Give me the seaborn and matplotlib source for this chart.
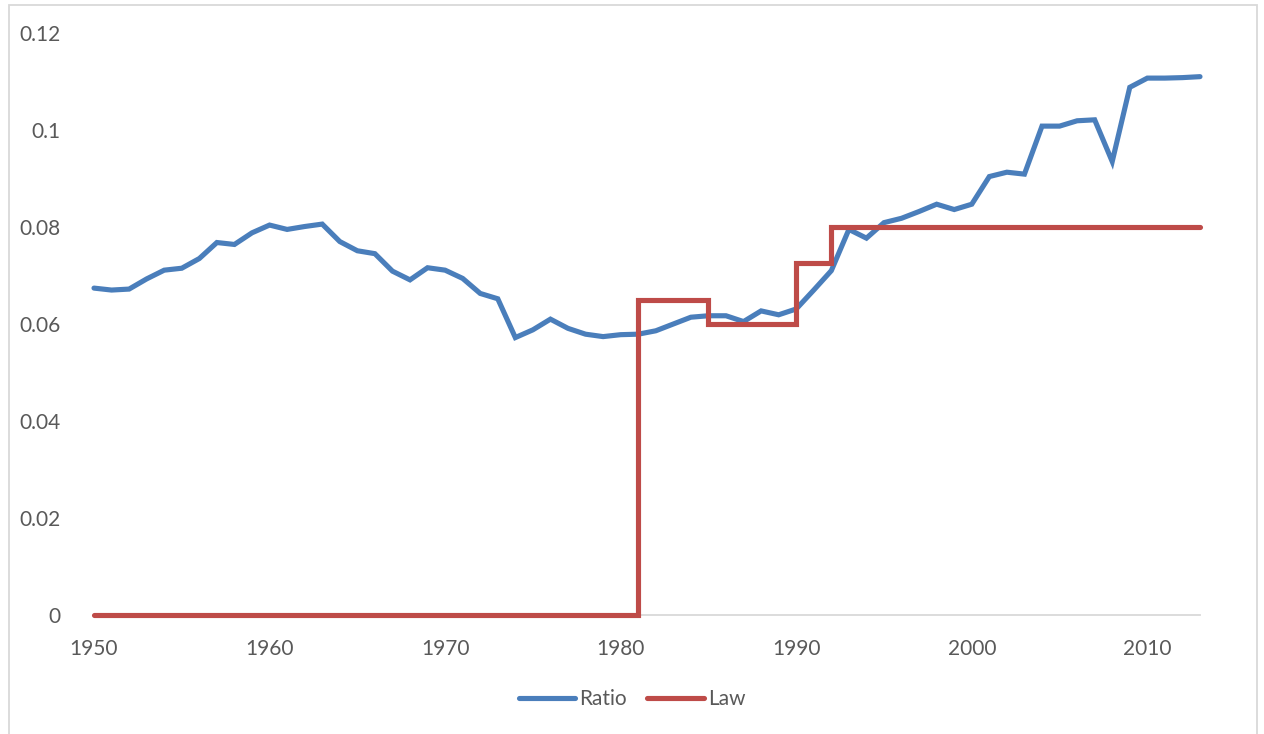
import matplotlib
matplotlib.use("Agg")
import matplotlib.pyplot as plt
import seaborn as sns
import pandas as pd
from matplotlib.patches import Rectangle

# values
years = list(range(1950, 2014))
ratio = [0.0674, 0.0670, 0.0672, 0.0693, 0.0711, 0.0715, 0.0735, 0.0768, 0.0764, 0.0788,
         0.0804, 0.0795, 0.0801, 0.0806, 0.0770, 0.0751, 0.0745, 0.0709, 0.0691, 0.0716,
         0.0711, 0.0694, 0.0663, 0.0652, 0.0572, 0.0588, 0.0610, 0.0591, 0.0579, 0.0574,
         0.0578, 0.0579, 0.0586, 0.0600, 0.0614, 0.0617, 0.0617, 0.0605, 0.0627, 0.0619,
         0.0631, 0.0670, 0.0710, 0.0795, 0.0777, 0.0809, 0.0818, 0.0832, 0.0847, 0.0836,
         0.0847, 0.0904, 0.0913, 0.0909, 0.1008, 0.1008, 0.1019, 0.1021, 0.0935, 0.1088,
         0.1107, 0.1107, 0.1108, 0.1110]

# law changes: value holds from that year until the next change
law_years = [1950, 1981, 1985, 1990, 1992, 2013]
law_values = [0.0, 0.065, 0.060, 0.0725, 0.080, 0.080]

y_ticks = [0, 0.02, 0.04, 0.06, 0.08, 0.1, 0.12]
y_tick_labels = ["0", "0.02", "0.04", "0.06", "0.08", "0.1", "0.12"]
x_ticks = [1950, 1960, 1970, 1980, 1990, 2000, 2010]

sns.set_style("white")
plt.rcParams['font.family'] = ['Lato', 'DejaVu Sans']

blue = "#4A7EBB"
red = "#BE4B48"
grey_text = "#595959"

ratio_df = pd.DataFrame({"year": years, "value": ratio})
law_df = pd.DataFrame({"year": law_years, "value": law_values})

fig = plt.figure(figsize=(12.64, 7.34), dpi=100)
ax = fig.add_axes([94 / 1264, 1 - 615 / 734, (1200 - 94) / 1264, (615 - 33) / 734])

sns.lineplot(data=ratio_df, x="year", y="value", ax=ax, color=blue, linewidth=3.7,
             label="Ratio", solid_joinstyle="miter", solid_capstyle="round", clip_on=False)
sns.lineplot(data=law_df, x="year", y="value", ax=ax, color=red, linewidth=3.7,
             label="Law", drawstyle="steps-post", estimator=None, sort=False,
             solid_joinstyle="miter", solid_capstyle="round", clip_on=False)

ax.set_xlim(1950, 2013)
ax.set_ylim(0, 0.12)
ax.set_xticks(x_ticks)
ax.set_xticklabels([str(x) for x in x_ticks])
ax.set_yticks(y_ticks)
ax.set_yticklabels(y_tick_labels)
ax.set_xlabel("")
ax.set_ylabel("")
ax.tick_params(axis="both", length=0, labelsize=15, colors=grey_text)
ax.tick_params(axis="x", pad=17)
ax.tick_params(axis="y", pad=24)

for s in ["top", "right", "left"]:
    ax.spines[s].set_visible(False)
ax.spines["bottom"].set_color("#D9D9D9")
ax.spines["bottom"].set_linewidth(1.3)
ax.spines["bottom"].set_zorder(0)

ax.get_legend().remove()
handles, labels = ax.get_legend_handles_labels()
leg = fig.legend(handles, labels, loc="center", bbox_to_anchor=(0.5, 1 - 699 / 734), ncol=2,
                 frameon=False, fontsize=15, handlelength=2.7, handletextpad=0.2,
                 columnspacing=1.0)
for t in leg.get_texts():
    t.set_color(grey_text)

# chart area border like the original
fig.patches.append(Rectangle((9 / 1264, -0.01), (1257 - 9) / 1264, 1 - 5 / 734 + 0.01,
                             transform=fig.transFigure, fill=False,
                             edgecolor="#D9D9D9", linewidth=1.3))

fig.savefig("out.png", dpi=100)
